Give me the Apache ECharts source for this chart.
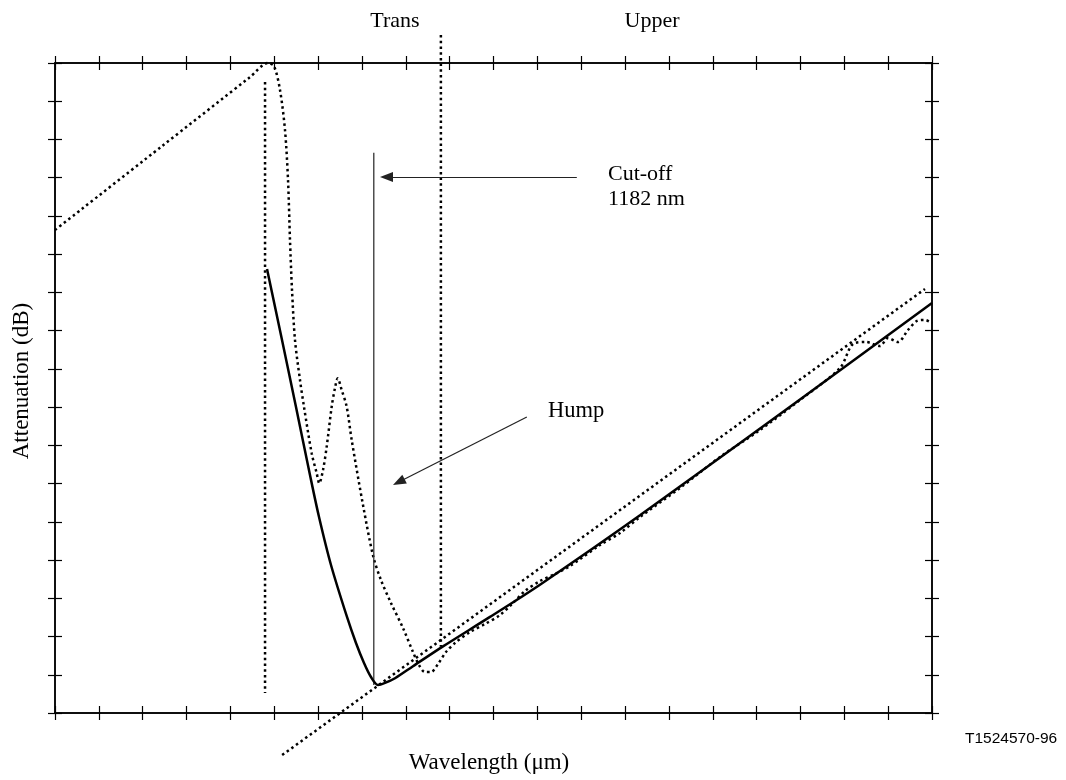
<!DOCTYPE html>
<html><head><meta charset="utf-8">
<script src="https://cdn.jsdelivr.net/npm/echarts@6/dist/echarts.min.js"></script>
<style>html,body{margin:0;padding:0;background:#fff}#c{width:1066px;height:780px}</style>
</head><body><div id="c"></div>
<script>
// axis ranges (no tick labels in the original; 20 x-intervals, 17 y-intervals)
const xRange = [0, 20];
const yRange = [0, 17];

// fitted (solid) attenuation curve
const fittedCurve = [
  [4.835,11.612],[5.177,9.755],[5.496,8.003],[5.815,6.225],[6.021,5.126],[6.294,3.871],
  [6.659,2.511],[6.864,1.831],[7.047,1.308],[7.206,0.942],[7.366,0.732],
  [7.526,0.787],[7.754,0.910],[8.164,1.224],[8.848,1.742],[9.920,2.513],[11.060,3.356],
  [13.341,5.171],[16.990,8.199],[20.0,10.726]
];

// measured (dotted) attenuation curve
const measuredCurve = [
  [0,12.632],[2.395,14.785],[4.447,16.631],[4.857,17.0],[4.994,16.922],[5.131,16.294],
  [5.245,15.248],[5.314,13.940],[5.359,12.371],[5.405,11.063],[5.473,9.755],[5.587,8.709],
  [5.679,8.003],[5.854,6.792],[5.968,6.269],[6.027,6.008],[6.112,6.355],[6.196,6.965],
  [6.310,8.011],[6.385,8.500],[6.447,8.754],[6.538,8.448],[6.652,8.011],[6.766,7.140],
  [7.031,5.396],[7.259,4.088],[7.434,3.478],[7.662,2.877],[7.936,2.223],[8.164,1.595],
  [8.301,1.255],[8.438,1.072],[8.575,1.072],[8.734,1.282],[8.917,1.595],[9.122,1.831],
  [9.464,2.118],[9.806,2.328],[10.148,2.563],[10.422,2.851],[10.718,3.191],[11.060,3.452],
  [11.403,3.635],[11.745,3.844],[12.429,4.394],[12.885,4.708],[13.341,5.126],[14.253,5.885],
  [15.165,6.695],[16.078,7.402],[16.990,8.186],[17.902,9.023],[18.198,9.651],[18.495,9.703],
  [18.814,9.598],[18.997,9.808],[19.225,9.703],[19.453,10.017],[19.658,10.253],[19.840,10.279],
  [20.0,10.200]
];

// straight tangent line through the minimum
const tangentLine = [[5.18,-1.10],[19.84,11.09]];
// region boundaries (dotted verticals)
const transBoundary = [[4.79,16.50],[4.79,0.52]];
const upperBoundary = [[8.80,17.73],[8.80,1.73]];
// cut-off marker (thin solid vertical)
const cutoffMarker = [[7.27,14.65],[7.27,0.73]];
// annotation arrows [from, to]
const cutoffArrow = [[11.90,14.02],[7.56,14.02]];
const humpArrow = [[10.76,7.74],[7.84,6.04]];

const serif = '"Liberation Serif","Times New Roman",serif';
const dotted = {color:'#000', width:2.5, type:[2.5,3.2], cap:'butt'};

function axisPair(dim, grid, inside) {
  const range = dim === 'x' ? xRange : yRange;
  const positions = dim === 'x' ? ['bottom','top'] : ['left','right'];
  return positions.map(p => ({
    type:'value', gridIndex:grid, position:p, min:range[0], max:range[1], interval:1,
    axisLine:{show:true, onZero:false, lineStyle:{color:'#000', width:1.5}},
    axisTick:{show:true, inside:inside, length:7, lineStyle:{color:'#000', width:1.2}},
    axisLabel:{show:false}, splitLine:{show:false}
  }));
}

const chart = echarts.init(document.getElementById('c'), null, {renderer:'canvas'});
const gridRect = {left:55, right:134, top:63, bottom:67};
chart.setOption({
  animation:false,
  backgroundColor:'#fff',
  grid:[Object.assign({}, gridRect), Object.assign({}, gridRect)],
  xAxis:[...axisPair('x',0,true), ...axisPair('x',1,false)],
  yAxis:[...axisPair('y',0,true), ...axisPair('y',1,false)],
  series:[
    {type:'line', data:measuredCurve, xAxisIndex:0, yAxisIndex:0, showSymbol:false,
     smooth:0.3, lineStyle:dotted, clip:false, z:3},
    {type:'line', data:fittedCurve, xAxisIndex:0, yAxisIndex:0, showSymbol:false,
     smooth:0.3, lineStyle:{color:'#000', width:2.5}, clip:false, z:4},
    {type:'line', data:tangentLine, xAxisIndex:0, yAxisIndex:0, showSymbol:false,
     lineStyle:dotted, clip:false, z:3},
    {type:'line', data:transBoundary, xAxisIndex:0, yAxisIndex:0, showSymbol:false,
     lineStyle:dotted, clip:false, z:3},
    {type:'line', data:upperBoundary, xAxisIndex:0, yAxisIndex:0, showSymbol:false,
     lineStyle:dotted, clip:false, z:3},
    {type:'line', data:cutoffMarker, xAxisIndex:0, yAxisIndex:0, showSymbol:false,
     lineStyle:{color:'#333', width:1.3}, clip:false, z:3,
     markLine:{
       silent:true, symbol:['none','triangle'], symbolSize:[10,13],
       label:{show:false}, emphasis:{disabled:true},
       lineStyle:{color:'#222', width:1.2, type:'solid'},
       data:[
         [{coord:cutoffArrow[0]},{coord:cutoffArrow[1]}],
         [{coord:humpArrow[0]},{coord:humpArrow[1]}]
       ]
     }}
  ],
  graphic:[
    {type:'text', x:395, y:21, style:{text:'Trans', font:'22px '+serif, fill:'#000', align:'center', verticalAlign:'middle'}},
    {type:'text', x:652, y:21, style:{text:'Upper', font:'22px '+serif, fill:'#000', align:'center', verticalAlign:'middle'}},
    {type:'text', x:608, y:174, style:{text:'Cut-off', font:'22px '+serif, fill:'#000', align:'left', verticalAlign:'middle'}},
    {type:'text', x:608, y:199, style:{text:'1182 nm', font:'22px '+serif, fill:'#000', align:'left', verticalAlign:'middle'}},
    {type:'text', x:548, y:411, style:{text:'Hump', font:'22.5px '+serif, fill:'#000', align:'left', verticalAlign:'middle'}},
    {type:'text', x:489, y:763, style:{text:'Wavelength (μm)', font:'23px '+serif, fill:'#000', align:'center', verticalAlign:'middle'}},
    {type:'text', x:22, y:381, rotation:Math.PI/2, style:{text:'Attenuation (dB)', font:'23px '+serif, fill:'#000', align:'center', verticalAlign:'middle'}},
    {type:'text', x:965, y:739, style:{text:'T1524570-96', font:'15.5px "Liberation Sans",Arial,sans-serif', fill:'#000', align:'left', verticalAlign:'middle'}}
  ]
});
</script></body></html>
